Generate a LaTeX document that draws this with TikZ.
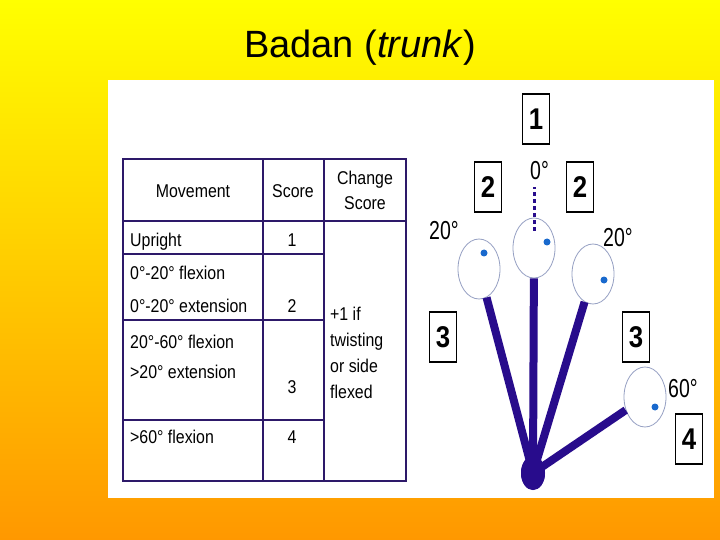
\documentclass[tikz,border=0pt]{standalone}
\usepackage{fontspec}
\setmainfont{Liberation Sans}
\newfontfamily\narrowfont[FakeStretch=0.86]{Liberation Sans}
\newfontfamily\degfont[FakeStretch=0.75]{Liberation Sans}
\usetikzlibrary{shapes.geometric, positioning, calc}
\definecolor{slideyellow}{RGB}{255,255,0}
\definecolor{slideorange}{RGB}{255,152,0}
\definecolor{gridline}{RGB}{45,25,105}
\definecolor{trunkblue}{RGB}{40,12,140}
\definecolor{dotblue}{RGB}{25,105,205}
\definecolor{headline}{RGB}{150,160,195}
\tikzset{
    celltext/.style={font=\narrowfont\fontsize{18.5bp}{22bp}\selectfont, inner sep=0pt},
    scorebox/.style={draw=black, line width=1.2bp, minimum width=27bp, minimum height=50bp, inner sep=0pt, font=\narrowfont\bfseries\fontsize{30bp}{30bp}\selectfont},
    headring/.style={ellipse, draw=headline, line width=0.8bp, fill=white, minimum width=42bp, minimum height=60bp, inner sep=0pt},
    headdot/.style={circle, fill=dotblue, minimum size=7bp, inner sep=0pt},
    deglabel/.style={font=\degfont\fontsize{26bp}{26bp}\selectfont, inner sep=0pt, anchor=base west},
    trunkline/.style={line width=8bp, trunkblue},
}

\begin{document}
\begin{tikzpicture}[
    x=1bp, y=-1bp,
    gridrule/.style={line width=2bp, gridline},
    cellleft/.style={celltext, anchor=base west},
    cellmid/.style={celltext, anchor=base}
]
\useasboundingbox (0,0) rectangle (720,540);
\shade[top color=slideyellow, bottom color=slideorange] (0,0) rectangle (720,540);
\fill[white] (108,80) rectangle (714,498);

\node[font=\fontsize{38bp}{40bp}\selectfont, inner sep=0pt, anchor=base] (title) at (360,58) {Badan (\textit{trunk})};

% score table
\draw[gridrule] (123,159) rectangle (406,481);
\draw[gridrule] (263,159) -- (263,481);
\draw[gridrule] (324,159) -- (324,481);
\draw[gridrule] (123,221) -- (406,221);
\foreach \y in {254,320,420}
    \draw[gridrule] (123,\y) -- (324,\y);

\node[cellmid] (hdMove) at (193,198) {Movement};
\node[cellmid] (hdScore) at (293,198) {Score};
\node[celltext, align=center, anchor=base] (hdChange) at (365,210) {Change\\[3bp]Score};

\node[cellleft] (rowUp) at (130,247) {Upright};
\node[cellmid] (scOne) at (292,247) {1};
\node[cellleft] (rowFlexA) at (130,280) {0°-20° flexion};
\node[cellleft] (rowExtA) at (130,312) {0°-20° extension};
\node[cellmid] (scTwo) at (292,312) {2};
\node[cellleft] (rowFlexB) at (130,348) {20°-60° flexion};
\node[cellleft] (rowExtB) at (130,378) {>20° extension};
\node[cellmid] (scThree) at (292,393) {3};
\node[cellleft] (rowFlexC) at (130,443) {>60° flexion};
\node[cellmid] (scFour) at (292,443) {4};
\node[celltext, align=left, anchor=base west] (change) at (330,398) {+1 if\\[4bp]twisting\\[4bp]or side\\[4bp]flexed};

% trunk figure
\node[ellipse, fill=trunkblue, minimum width=24bp, minimum height=34bp, inner sep=0pt] (hip) at (533,473) {};
\node[headring] (headC) at (534,248) {};
\node[headring] (headL) at (479,269) {};
\node[headring] (headR) at (593,274) {};
\node[headring] (headF) at (645,397) {};

\draw[trunkline] (hip.center) -- (headC);
\draw[trunkline] (hip.center) -- (headL);
\draw[trunkline] (hip.center) -- (headR);
\draw[trunkline] (hip.center) -- (headF);
\node[ellipse, fill=trunkblue, minimum width=24bp, minimum height=34bp, inner sep=0pt] at (hip) {};

\node[headdot] (dotC) at (547,242) {};
\node[headdot] (dotL) at (484,253) {};
\node[headdot] (dotR) at (604,280) {};
\node[headdot] (dotF) at (655,407) {};

\coordinate (zeroTop) at (534,187);
\coordinate (zeroBot) at (534,231);
\draw[line width=3bp, trunkblue, dash pattern=on 4bp off 3bp] (zeroBot) -- (zeroTop);

\node[deglabel] (degZero) at (530,180) {0°};
\node[deglabel] (degL) at (429,240) {20°};
\node[deglabel] (degR) at (603,247) {20°};
\node[deglabel] (degF) at (668,397) {60°};

\node[scorebox] (boxOne) at (536,119) {1};
\node[scorebox] (boxTwoL) at (488,187) {2};
\node[scorebox] (boxTwoR) at (580,187) {2};
\node[scorebox] (boxThreeL) at (443,337) {3};
\node[scorebox] (boxThreeR) at (636,337) {3};
\node[scorebox] (boxFour) at (689,439) {4};

\end{tikzpicture}
\end{document}
